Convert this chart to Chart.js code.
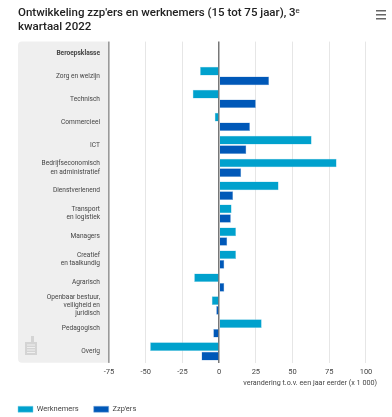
<!DOCTYPE html>
<html>
<head>
<meta charset="utf-8">
<style>
html, body { margin: 0; padding: 0; background: #fff; }
#wrap { width: 392px; height: 417px; }
</style>
<script src="https://cdn.jsdelivr.net/npm/chart.js@4"></script>
</head>
<body>
<div id="wrap"><canvas id="myChart" width="392" height="417"></canvas></div>
<script>
const titleLines = ["Ontwikkeling zzp'ers en werknemers (15 tot 75 jaar), 3ᵉ", "kwartaal 2022"];
const axisTitle = "verandering t.o.v. een jaar eerder (x 1 000)";
const categories = [
	"Beroepsklasse",
	"Zorg en welzijn",
	"Technisch",
	"Commercieel",
	"ICT",
	["Bedrijfseconomisch", "en administratief"],
	"Dienstverlenend",
	["Transport", "en logistiek"],
	"Managers",
	["Creatief", "en taalkundig"],
	"Agrarisch",
	["Openbaar bestuur,", "veiligheid en", "juridisch"],
	"Pedagogisch",
	"Overig"
];
const werknemers = [null, -13, -18, -3, 63, 80, 40.5, 8.5, 11.5, 11.5, -17, -5, 29, -47];
const zzpers = [null, 34, 25, 21, 18.5, 15, 9.5, 8, 5.5, 3.5, 3.5, -2, -4, -12];

const fontName = "Roboto, sans-serif";

// grey panel behind the category labels
const panelPlugin = {
	id: 'panel',
	beforeDraw(chart) {
		const c = chart.ctx;
		const a = chart.chartArea;
		// title lines up with the panel, not the canvas edge
		chart.titleBlock.left = 18;
		c.save();
		c.fillStyle = '#efefef';
		c.beginPath();
		c.roundRect(18, a.top, a.left - 18, a.bottom - a.top, [4, 0, 0, 4]);
		c.fill();
		c.restore();
	},
	afterDraw(chart) {
		const c = chart.ctx;
		const a = chart.chartArea;
		c.save();
		// border between panel and plot
		c.fillStyle = '#9a9a9a';
		c.fillRect(a.left - 1, a.top, 1.5, a.bottom - a.top);
		// menu icon
		c.fillStyle = '#666';
		c.fillRect(376, 10, 10, 1.5);
		c.fillRect(376, 14, 10, 1.5);
		c.fillRect(376, 18, 10, 1.5);
		// little logo in the panel
		c.fillStyle = '#d4d4d4';
		c.fillRect(25, 342, 12, 13);
		c.fillRect(31, 336, 3, 6);
		c.fillStyle = '#efefef';
		for (let i = 0; i < 4; i++) {
			c.fillRect(27, 344.5 + i * 2.5, 8, 1);
		}
		c.restore();
	}
};

new Chart(document.getElementById('myChart'), {
	type: 'bar',
	data: {
		labels: categories,
		datasets: [
			{label: 'Werknemers', data: werknemers, backgroundColor: '#00a1cd', borderColor: '#7fd0e6', borderWidth: 0.5},
			{label: "Zzp'ers", data: zzpers, backgroundColor: '#0058b8', borderColor: '#7fabdb', borderWidth: 0.5}
		]
	},
	plugins: [panelPlugin],
	options: {
		indexAxis: 'y',
		responsive: false,
		animation: false,
		categoryPercentage: 0.84,
		barPercentage: 0.9,
		layout: {padding: {left: 3, right: 15, top: 0, bottom: -6}},
		scales: {
			x: {
				min: -75,
				max: 107.5,
				grid: {
					color: ctx => ctx.tick.value === 0 ? '#777' : '#e6e6e6',
					lineWidth: ctx => ctx.tick.value === 0 ? 1.5 : 1,
					drawTicks: false
				},
				border: {display: false},
				ticks: {
					stepSize: 25,
					includeBounds: false,
					maxRotation: 0,
					color: '#444',
					padding: 5,
					font: {family: fontName, size: 7.5}
				},
				title: {
					display: true,
					text: axisTitle,
					align: 'end',
					color: '#444',
					padding: {top: -3, bottom: 3},
					font: {family: fontName, size: 7.2}
				}
			},
			y: {
				grid: {display: false, drawTicks: false},
				border: {display: false},
				afterFit(scale) { scale.width = 106; },
				ticks: {
					autoSkip: false,
					color: '#444',
					padding: 9,
					font: ctx => ({
						family: fontName,
						size: 6.6,
						weight: ctx.index === 0 ? 'bold' : 'normal',
						lineHeight: 1.25
					})
				}
			}
		},
		plugins: {
			title: {
				display: true,
				text: titleLines,
				align: 'start',
				color: '#222',
				padding: {top: 6, bottom: 8},
				font: {family: fontName, size: 11.5, weight: '500', lineHeight: 1.2}
			},
			legend: {
				position: 'bottom',
				align: 'start',
				labels: {
					boxWidth: 15,
					boxHeight: 6,
					padding: 15,
					color: '#444',
					font: {family: fontName, size: 7.5}
				}
			},
			tooltip: {enabled: false}
		}
	}
});
</script>
</body>
</html>
